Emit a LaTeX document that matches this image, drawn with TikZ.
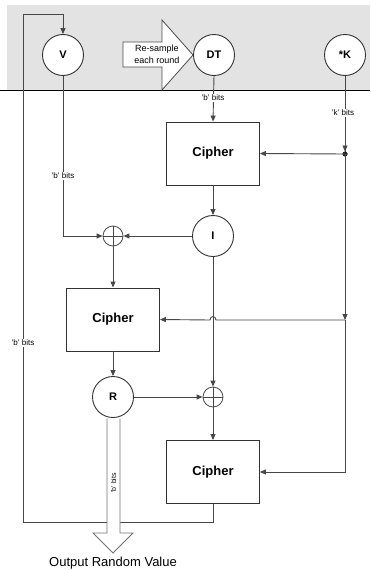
\documentclass[tikz,border=0pt]{standalone}
\usepackage{fontspec}
\setmainfont{Liberation Sans}
\usetikzlibrary{arrows.meta}
\begin{document}
\begin{tikzpicture}[x=1pt,y=-1pt,
 ln/.style={draw=black!72, line width=0.9pt},
 arr/.style={ln, -{Triangle[length=6pt,width=5pt]}},
 circ/.style={circle, draw=black!80, line width=0.9pt, fill=white, minimum size=41pt, inner sep=0pt, font=\fontsize{11}{13}\selectfont\bfseries},
 cipher/.style={rectangle, draw=black!80, line width=0.9pt, fill=white, minimum width=93pt, minimum height=63pt, font=\fontsize{13}{15}\selectfont\bfseries},
 xorn/.style={circle, draw=black!70, line width=0.8pt, fill=white, minimum size=20pt, inner sep=0pt},
 lbl/.style={fill=white, inner sep=1pt, font=\fontsize{8}{9}\selectfont}
]
\useasboundingbox (0,0) rectangle (370,570);
% band
\fill[black!11] (7,5) rectangle (370,90);
\draw[black, line width=1pt] (0,90) -- (370,90);
% resample arrow
\draw[draw=black!70, line width=0.8pt, fill=white] (123,42) -- (162,42) -- (162,20) -- (193,55) -- (162,90) -- (162,67) -- (123,67) -- cycle;
\node[align=center, font=\fontsize{9}{12}\selectfont, inner sep=0pt] (rs) at (157,54) {Re-sample\\each round};
% nodes
\node[circ] (V) at (63,55) {V};
\node[circ] (DT) at (214,55) {DT};
\node[circ] (K) at (345,55) {*K};
\node[cipher] (c1) at (213,153.5) {Cipher};
\node[circ] (I) at (213,236) {I};
\node[xorn] (x1) at (113,236) {};
\node[cipher] (c2) at (113,319.5) {Cipher};
\node[circ] (R) at (113,397) {R};
\node[xorn] (x2) at (213,397) {};
\node[cipher] (c3) at (213,472) {Cipher};
\draw[ln] (x1.north) -- (x1.south) (x1.west) -- (x1.east);
\draw[ln] (x2.north) -- (x2.south) (x2.west) -- (x2.east);
% coordinates
\coordinate (fbbl) at (23,522);
\coordinate (fbtl) at (23,14);
\coordinate (vturn) at (63,236);
\coordinate (kdot) at (345,154);
\coordinate (kmid) at (345,320);
\coordinate (jr) at (216,320);
\coordinate (jl) at (210,320);
% connectors
\draw[arr] (c3.south) |- (fbbl) -- (fbtl) -| (V.north);
\draw[arr] (V.south) -- (vturn) -- (x1.west);
\draw[arr] (DT.south) -- (c1.north);
\draw[ln] (K.south) -- (kdot);
\draw[arr, shorten >=2.5pt] (K.south) -- (kdot);
\fill[black!85] (kdot) circle (2.6pt);
\draw[arr] (kdot) -- (c1.east);
\draw[arr] (kdot) -- (kmid);
\draw[arr] (kmid) -- (jr) .. controls (216,315.5) and (210,315.5) .. (jl) -- (c2.east);
\draw[arr] (kmid) |- (c3.east);
\draw[arr] (c1.south) -- (I.north);
\draw[arr] (I.west) -- (x1.east);
\draw[arr] (x1.south) -- (c2.north);
\draw[arr] (I.south) -- (x2.north);
\draw[arr] (c2.south) -- (R.north);
\draw[arr] (R.east) -- (x2.west);
\draw[arr] (x2.south) -- (c3.north);
% labels
\node[lbl] (l1) at (213,98) {'b' bits};
\node[lbl] (l2) at (343,113) {'k' bits};
\node[lbl] (l3) at (63,176) {'b' bits};
\node[lbl] (l4) at (23,343) {'b' bits};
% output arrow
\draw[draw=black!55, line width=0.8pt, fill=white] (107,418.5) -- (107,533) -- (93,533) -- (113,553) -- (133,533) -- (120,533) -- (120,418.5);
\node[rotate=90, inner sep=0pt, font=\fontsize{7}{8}\selectfont] (lo) at (113.5,483) {'b' bits};
\node[font=\fontsize{13}{15}\selectfont, inner sep=0pt] (out) at (113,563) {Output Random Value};
\end{tikzpicture}
\end{document}
